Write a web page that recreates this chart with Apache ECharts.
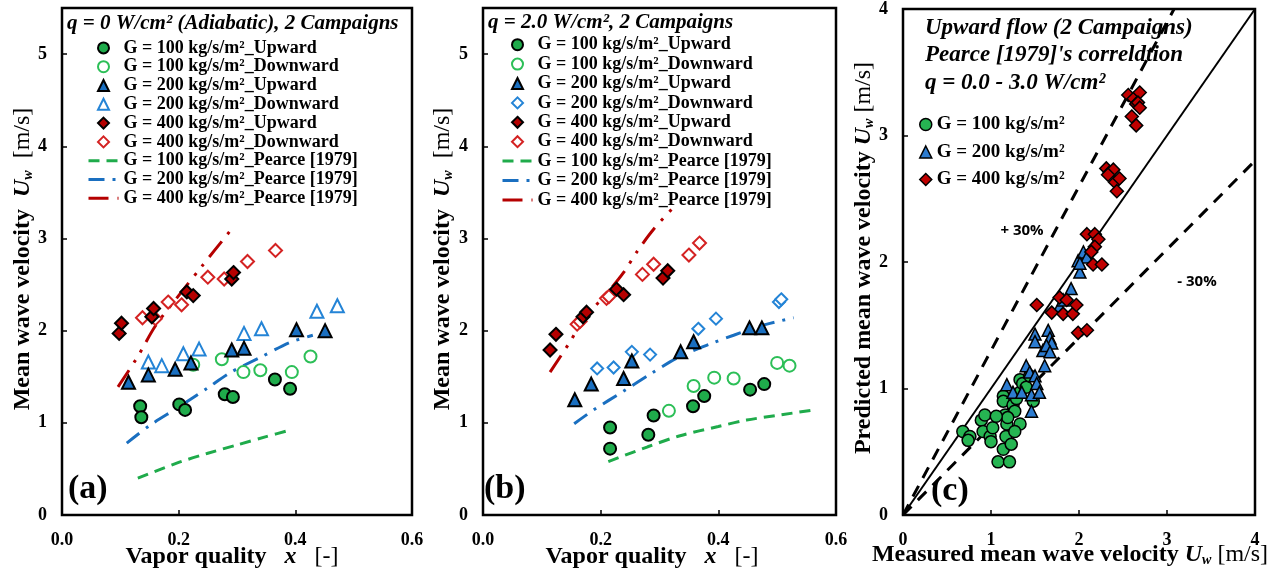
<!DOCTYPE html>
<html>
<head>
<meta charset="utf-8">
<script src="https://cdn.jsdelivr.net/npm/echarts@6/dist/echarts.min.js"></script>
<style>
  html, body { margin: 0; padding: 0; background: #fff; }
  #chart { width: 1278px; height: 574px; }
</style>
</head>
<body>
<div id="chart"></div>
<script>
// ---------- Panel (a): q = 0 W/cm² (adiabatic) ----------
const a_g100_up   = [[0.134,1.18],[0.136,1.06],[0.201,1.20],[0.211,1.14],[0.279,1.31],[0.293,1.28],[0.365,1.47],[0.391,1.37]];
const a_g100_down = [[0.225,1.63],[0.274,1.69],[0.311,1.55],[0.340,1.57],[0.394,1.55],[0.426,1.72]];
const a_g200_up   = [[0.114,1.44],[0.148,1.52],[0.194,1.58],[0.221,1.65],[0.291,1.79],[0.312,1.81],[0.402,2.01],[0.451,2.00]];
const a_g200_down = [[0.148,1.66],[0.171,1.62],[0.208,1.75],[0.235,1.80],[0.312,1.97],[0.342,2.02],[0.437,2.21],[0.472,2.27]];
const a_g400_up   = [[0.098,1.97],[0.102,2.08],[0.154,2.15],[0.157,2.24],[0.214,2.42],[0.225,2.38],[0.291,2.56],[0.294,2.63]];
const a_g400_down = [[0.138,2.14],[0.160,2.13],[0.182,2.31],[0.205,2.28],[0.250,2.58],[0.278,2.56],[0.318,2.75],[0.366,2.87]];
const a_pearce100 = [[0.13,0.40],[0.20,0.57],[0.25,0.67],[0.30,0.76],[0.35,0.85],[0.39,0.92]];
const a_pearce200 = [[0.111,0.78],[0.15,0.97],[0.20,1.17],[0.25,1.38],[0.29,1.55],[0.34,1.71],[0.39,1.87],[0.43,1.95]];
const a_pearce400 = [[0.096,1.39],[0.13,1.72],[0.16,2.05],[0.20,2.38],[0.24,2.70],[0.288,3.08]];

// ---------- Panel (b): q = 2.0 W/cm² ----------
const b_g100_up   = [[0.216,0.95],[0.216,0.72],[0.281,0.87],[0.290,1.08],[0.357,1.18],[0.376,1.29],[0.454,1.36],[0.478,1.42]];
const b_g100_down = [[0.316,1.13],[0.358,1.40],[0.393,1.49],[0.426,1.48],[0.500,1.65],[0.521,1.62]];
const b_g200_up   = [[0.156,1.25],[0.184,1.42],[0.239,1.48],[0.253,1.67],[0.336,1.77],[0.358,1.88],[0.453,2.03],[0.474,2.03]];
const b_g200_down = [[0.194,1.59],[0.222,1.60],[0.253,1.77],[0.284,1.74],[0.366,2.02],[0.396,2.13],[0.503,2.31],[0.507,2.34]];
const b_g400_up   = [[0.114,1.79],[0.124,1.96],[0.170,2.15],[0.176,2.20],[0.227,2.45],[0.239,2.39],[0.306,2.57],[0.314,2.65]];
const b_g400_down = [[0.160,2.07],[0.165,2.10],[0.210,2.35],[0.214,2.37],[0.271,2.61],[0.290,2.72],[0.350,2.82],[0.368,2.95]];
const b_pearce100 = [[0.213,0.58],[0.28,0.74],[0.335,0.86],[0.40,0.96],[0.448,1.03],[0.50,1.08],[0.562,1.14]];
const b_pearce200 = [[0.155,0.99],[0.188,1.14],[0.238,1.34],[0.287,1.54],[0.335,1.72],[0.392,1.87],[0.426,1.95],[0.471,2.05],[0.528,2.14]];
const b_pearce400 = [[0.114,1.55],[0.147,1.87],[0.165,2.06],[0.19,2.26],[0.21,2.40],[0.24,2.64],[0.261,2.85],[0.29,3.10],[0.327,3.36]];

// ---------- Panel (c): predicted vs measured, upward flow ----------
const c_g100 = [[0.68,0.66],[0.76,0.62],[0.74,0.59],[0.89,0.75],[0.93,0.79],[0.91,0.66],[0.99,0.62],[1.00,0.58],
  [1.02,0.69],[1.08,0.42],[1.21,0.42],[1.14,0.52],[1.17,0.62],[1.23,0.56],[1.14,0.94],[1.14,0.90],[1.16,0.79],
  [1.18,0.72],[1.25,0.87],[1.27,0.82],[1.29,0.92],[1.33,0.97],[1.33,1.07],[1.36,1.04],[1.33,0.72],[1.27,0.66],
  [1.40,1.01],[1.48,0.90],[1.44,1.10],[1.19,0.77],[1.06,0.78]];
const c_g200 = [[1.18,1.03],[1.25,0.97],[1.35,0.97],[1.40,1.18],[1.44,1.13],[1.46,0.95],[1.46,0.82],[1.50,1.10],
  [1.52,1.04],[1.55,0.97],[1.50,1.43],[1.50,1.37],[1.59,1.30],[1.61,1.18],[1.65,1.46],[1.67,1.40],[1.69,1.36],
  [1.63,1.34],[1.67,1.29],[1.78,1.65],[1.82,1.70],[1.91,1.79],[2.01,1.92],[1.99,2.01],[2.05,2.08],[2.09,2.04],[2.01,1.99]];
const c_g400 = [[1.52,1.66],[1.69,1.60],[1.78,1.72],[1.82,1.59],[1.86,1.70],[1.93,1.59],[1.97,1.66],[1.99,1.44],
  [2.09,1.46],[2.09,2.22],[2.18,2.22],[2.22,2.18],[2.18,2.12],[2.14,2.08],[2.16,1.98],[2.26,1.98],[2.31,2.74],
  [2.35,2.71],[2.39,2.73],[2.33,2.69],[2.41,2.63],[2.46,2.66],[2.43,2.56],[2.56,3.32],[2.62,3.29],[2.65,3.25],
  [2.69,3.34],[2.67,3.26],[2.60,3.15],[2.65,3.08],[2.69,3.22]];
const c_parity  = [[0,0],[4,4]];
const c_plus30  = [[0,0],[3.08,4]];
const c_minus30 = [[0,0],[4,2.8]];

// ---------- Axis ticks ----------
const quality_ticks  = { min: 0, max: 0.6, interval: 0.2 };
const velocity_ticks = { min: 0, max: 5.5, interval: 1 };
const parity_ticks   = { min: 0, max: 4, interval: 1 };

// ---------- Names ----------
const names = {
  g100up: 'G = 100 kg/s/m²_Upward', g100dn: 'G = 100 kg/s/m²_Downward',
  g200up: 'G = 200 kg/s/m²_Upward', g200dn: 'G = 200 kg/s/m²_Downward',
  g400up: 'G = 400 kg/s/m²_Upward', g400dn: 'G = 400 kg/s/m²_Downward',
  p100: 'G = 100 kg/s/m²_Pearce [1979]', p200: 'G = 200 kg/s/m²_Pearce [1979]', p400: 'G = 400 kg/s/m²_Pearce [1979]',
  c100: 'G = 100 kg/s/m²', c200: 'G = 200 kg/s/m²', c400: 'G = 400 kg/s/m²'
};

const SERIF = "'Liberation Serif', 'Times New Roman', serif";
const SANS = "'Open Sans', 'Liberation Sans', sans-serif";
const GREEN = '#1fab4b', GREEN_O = '#2cbf57';
const BLUE = '#1a6fc0', BLUE_O = '#2484d6';
const RED = '#b50000', RED_O = '#d42222';
const DASH_100 = [11, 7];
const DASH_200 = [16, 8, 3, 8];
const DASH_400 = [20, 9, 3, 9, 3, 9];
// square-aspect legend glyphs (kept centred inside the wide legend icon box)
const ICON_TRI = 'path://M5,0L10,10L0,10Z';
const ICON_DIA = 'path://M5,0L10,5L5,10L0,5Z';

function pointSeries(name, data, gi, symbol, size, fill, stroke, bw) {
  return {
    name, type: 'scatter', data, xAxisIndex: gi, yAxisIndex: gi,
    symbol, symbolSize: size, z: 3,
    itemStyle: { color: fill, borderColor: stroke, borderWidth: bw, opacity: 1 },
    emphasis: { disabled: true }
  };
}
function curveSeries(name, data, gi, color, dash, width) {
  return {
    name, type: 'line', data, xAxisIndex: gi, yAxisIndex: gi,
    symbol: 'none', smooth: 0.3, z: 2,
    lineStyle: { color, width, type: dash, cap: 'butt' },
    emphasis: { disabled: true }
  };
}

const series = [
  // panel (a)
  curveSeries(names.p100, a_pearce100, 0, GREEN, DASH_100, 3),
  curveSeries(names.p200, a_pearce200, 0, BLUE, DASH_200, 3),
  curveSeries(names.p400, a_pearce400, 0, RED, DASH_400, 3),
  pointSeries(names.g100dn, a_g100_down, 0, 'circle', 12, '#fff', GREEN_O, 2),
  pointSeries(names.g200dn, a_g200_down, 0, 'triangle', 13, '#fff', BLUE_O, 2),
  pointSeries(names.g400dn, a_g400_down, 0, 'diamond', 13, '#fff', RED_O, 2),
  pointSeries(names.g100up, a_g100_up, 0, 'circle', 12, GREEN, '#000', 2),
  pointSeries(names.g200up, a_g200_up, 0, 'triangle', 13, BLUE, '#000', 2),
  pointSeries(names.g400up, a_g400_up, 0, 'diamond', 13, RED, '#000', 2),
  // panel (b)
  curveSeries(names.p100, b_pearce100, 1, GREEN, DASH_100, 3),
  curveSeries(names.p200, b_pearce200, 1, BLUE, DASH_200, 3),
  curveSeries(names.p400, b_pearce400, 1, RED, DASH_400, 3),
  pointSeries(names.g100dn, b_g100_down, 1, 'circle', 12, '#fff', GREEN_O, 2),
  pointSeries(names.g200dn, b_g200_down, 1, 'diamond', 12, '#fff', BLUE_O, 2),
  pointSeries(names.g400dn, b_g400_down, 1, 'diamond', 13, '#fff', RED_O, 2),
  pointSeries(names.g100up, b_g100_up, 1, 'circle', 12, GREEN, '#000', 2),
  pointSeries(names.g200up, b_g200_up, 1, 'triangle', 13, BLUE, '#000', 2),
  pointSeries(names.g400up, b_g400_up, 1, 'diamond', 13, RED, '#000', 2),
  // panel (c)
  { name: 'parity', type: 'line', data: c_parity, xAxisIndex: 2, yAxisIndex: 2, symbol: 'none', z: 2,
    lineStyle: { color: '#000', width: 2 }, emphasis: { disabled: true } },
  { name: '+30%', type: 'line', data: c_plus30, xAxisIndex: 2, yAxisIndex: 2, symbol: 'none', z: 2,
    lineStyle: { color: '#000', width: 3, type: [12, 9] }, emphasis: { disabled: true } },
  { name: '-30%', type: 'line', data: c_minus30, xAxisIndex: 2, yAxisIndex: 2, symbol: 'none', z: 2,
    lineStyle: { color: '#000', width: 3, type: [12, 9] }, emphasis: { disabled: true } },
  pointSeries(names.c100, c_g100, 2, 'circle', 12, '#26b552', '#000', 1.5),
  pointSeries(names.c200, c_g200, 2, 'triangle', 12, '#2d7cd0', '#000', 1.5),
  pointSeries(names.c400, c_g400, 2, 'diamond', 13, '#c00000', '#000', 1.5)
];

// tick labels are drawn through a rich-text token so the serif face and size are explicit
const tickRich = { t: { fontFamily: SERIF, fontWeight: 'bold', fontSize: 18, color: '#000', lineHeight: 18 } };
function xAxisOf(gi, ticks, fmt) {
  return {
    gridIndex: gi, type: 'value', min: ticks.min, max: ticks.max, interval: ticks.interval,
    axisLine: { show: false }, splitLine: { show: false },
    axisTick: { show: true, inside: true, length: 5, lineStyle: { color: '#000', width: 1.5 } },
    axisLabel: { margin: 16, fontFamily: SERIF, fontWeight: 'bold', fontSize: 18, color: '#000',
      rich: tickRich, formatter: v => '{t|' + fmt(v) + '}' }
  };
}
function yAxisOf(gi, ticks) {
  return {
    gridIndex: gi, type: 'value', min: ticks.min, max: ticks.max, interval: ticks.interval,
    axisLine: { show: false }, splitLine: { show: false },
    axisTick: { show: true, inside: true, length: 5, lineStyle: { color: '#000', width: 1.5 } },
    axisLabel: { margin: 15, fontFamily: SERIF, fontWeight: 'bold', fontSize: 18, color: '#000',
      showMaxLabel: ticks.max % ticks.interval === 0, rich: tickRich,
      formatter: v => (v % 1 === 0 ? '{t|' + v + '}' : '') }
  };
}

const legendText = (lh, fs) => ({ fontFamily: SERIF, fontWeight: 'bold', fontSize: fs, color: '#000', lineHeight: lh });
const hiddenDot = { opacity: 0, color: 'transparent', borderWidth: 0 };
function legendItems(openG200Icon) {
  return [
    { name: names.g100up, icon: 'circle', itemStyle: { color: GREEN, borderColor: '#000', borderWidth: 2 } },
    { name: names.g100dn, icon: 'circle', itemStyle: { color: '#fff', borderColor: GREEN_O, borderWidth: 2 } },
    { name: names.g200up, icon: ICON_TRI, itemStyle: { color: BLUE, borderColor: '#000', borderWidth: 2 } },
    { name: names.g200dn, icon: openG200Icon, itemStyle: { color: '#fff', borderColor: BLUE_O, borderWidth: 2 } },
    { name: names.g400up, icon: ICON_DIA, itemStyle: { color: RED, borderColor: '#000', borderWidth: 2 } },
    { name: names.g400dn, icon: ICON_DIA, itemStyle: { color: '#fff', borderColor: RED_O, borderWidth: 2 } },
    { name: names.p100, itemStyle: hiddenDot, lineStyle: { color: GREEN, width: 3, type: DASH_100 } },
    { name: names.p200, itemStyle: hiddenDot, lineStyle: { color: BLUE, width: 3, type: DASH_200 } },
    { name: names.p400, itemStyle: hiddenDot, lineStyle: { color: RED, width: 3, type: DASH_400 } }
  ];
}

function richLabel(size) {
  return {
    b: { fontFamily: SERIF, fontWeight: 'bold', fontSize: size, fill: '#000' },
    i: { fontFamily: SERIF, fontWeight: 'bold', fontStyle: 'italic', fontSize: size, fill: '#000' },
    s: { fontFamily: SERIF, fontWeight: 'bold', fontStyle: 'italic', fontSize: Math.round(size * 0.6), fill: '#000',
         lineHeight: Math.round(size * 0.6), verticalAlign: 'bottom' },
    r: { fontFamily: SERIF, fontWeight: 'normal', fontSize: size, fill: '#000' }
  };
}

function textEl(x, y, text, font, extra) {
  return Object.assign({ type: 'text', x, y, z: 10, silent: true,
    style: Object.assign({ text, font, fill: '#000', align: 'left', verticalAlign: 'middle' }, extra || {}) });
}

const graphics = [
  // panel headings
  textEl(67, 24, 'q = 0 W/cm² (Adiabatic), 2 Campaigns', `italic bold 21px ${SERIF}`),
  textEl(488, 23, 'q = 2.0 W/cm², 2 Campaigns', `italic bold 21px ${SERIF}`),
  textEl(925, 14, 'Upward flow (2 Campaigns)\nPearce [1979]\'s correldtion\nq = 0.0 - 3.0 W/cm²',
    `italic bold 23px ${SERIF}`, { verticalAlign: 'top', lineHeight: 27.5 }),
  // panel tags
  textEl(68, 489, '(a)', `bold 34px ${SERIF}`),
  textEl(484, 489, '(b)', `bold 34px ${SERIF}`),
  textEl(931, 491, '(c)', `bold 34px ${SERIF}`),
  // ±30 % band labels
  textEl(1022, 231, '+ 30%', `bold 15px ${SANS}`, { align: 'center' }),
  textEl(1197, 282, '- 30%', `bold 15px ${SANS}`, { align: 'center' }),
  // x-axis titles
  textEl(232, 557, '{b|Vapor quality}{b|   }{i|x}{b|   }{r|[-]}', null, { align: 'center', rich: richLabel(24) }),
  textEl(652, 557, '{b|Vapor quality}{b|   }{i|x}{b|   }{r|[-]}', null, { align: 'center', rich: richLabel(24) }),
  textEl(1070, 555, '{b|Measured mean wave velocity }{i|U}{s|w}{r| [m/s]}', null, { align: 'center', rich: richLabel(24) }),
  // y-axis titles
  Object.assign(textEl(23, 259, '{b|Mean wave velocity}{b|  }{i|U}{s|w}{b|  }{r|[m/s]}', null,
    { align: 'center', rich: richLabel(24) }), { rotation: Math.PI / 2 }),
  Object.assign(textEl(443, 259, '{b|Mean wave velocity}{b|  }{i|U}{s|w}{b|  }{r|[m/s]}', null,
    { align: 'center', rich: richLabel(24) }), { rotation: Math.PI / 2 }),
  Object.assign(textEl(864, 258, '{b|Predicted mean wave velocity }{i|U}{s|w}{r| [m/s]}', null,
    { align: 'center', rich: richLabel(24) }), { rotation: Math.PI / 2 })
];

const gridBox = { show: true, borderColor: '#000', borderWidth: 2.5, backgroundColor: 'transparent', containLabel: false };

const option = {
  animation: false,
  backgroundColor: '#fff',
  grid: [
    Object.assign({ left: 62, top: 8, width: 350, height: 507 }, gridBox),
    Object.assign({ left: 483, top: 8, width: 353, height: 507 }, gridBox),
    Object.assign({ left: 903, top: 8, width: 352, height: 507 }, gridBox)
  ],
  xAxis: [
    xAxisOf(0, quality_ticks, v => v.toFixed(1)),
    xAxisOf(1, quality_ticks, v => v.toFixed(1)),
    xAxisOf(2, parity_ticks, v => String(v))
  ],
  yAxis: [
    yAxisOf(0, velocity_ticks),
    yAxisOf(1, velocity_ticks),
    yAxisOf(2, parity_ticks)
  ],
  legend: [
    { left: 87, top: 38.5, orient: 'vertical', padding: 0, itemGap: 0, itemWidth: 30, itemHeight: 11,
      symbolKeepAspect: true, selectedMode: false, textStyle: legendText(18.8, 18), data: legendItems(ICON_TRI) },
    { left: 501, top: 35, orient: 'vertical', padding: 0, itemGap: 0, itemWidth: 30, itemHeight: 11,
      symbolKeepAspect: true, selectedMode: false, textStyle: legendText(19.4, 18), data: legendItems(ICON_DIA) },
    { left: 919, top: 114.5, orient: 'vertical', padding: 0, itemGap: 7.5, itemWidth: 12, itemHeight: 12,
      symbolKeepAspect: true, selectedMode: false, textStyle: legendText(20, 19),
      data: [
        { name: names.c100, icon: 'circle', itemStyle: { color: '#26b552', borderColor: '#000', borderWidth: 1.5 } },
        { name: names.c200, icon: 'triangle', itemStyle: { color: '#2d7cd0', borderColor: '#000', borderWidth: 1.5 } },
        { name: names.c400, icon: 'diamond', itemStyle: { color: '#c00000', borderColor: '#000', borderWidth: 1.5 } }
      ] }
  ],
  graphic: graphics,
  series
};

const chart = echarts.init(document.getElementById('chart'), null, { renderer: 'canvas' });
chart.setOption(option);
</script>
</body>
</html>
